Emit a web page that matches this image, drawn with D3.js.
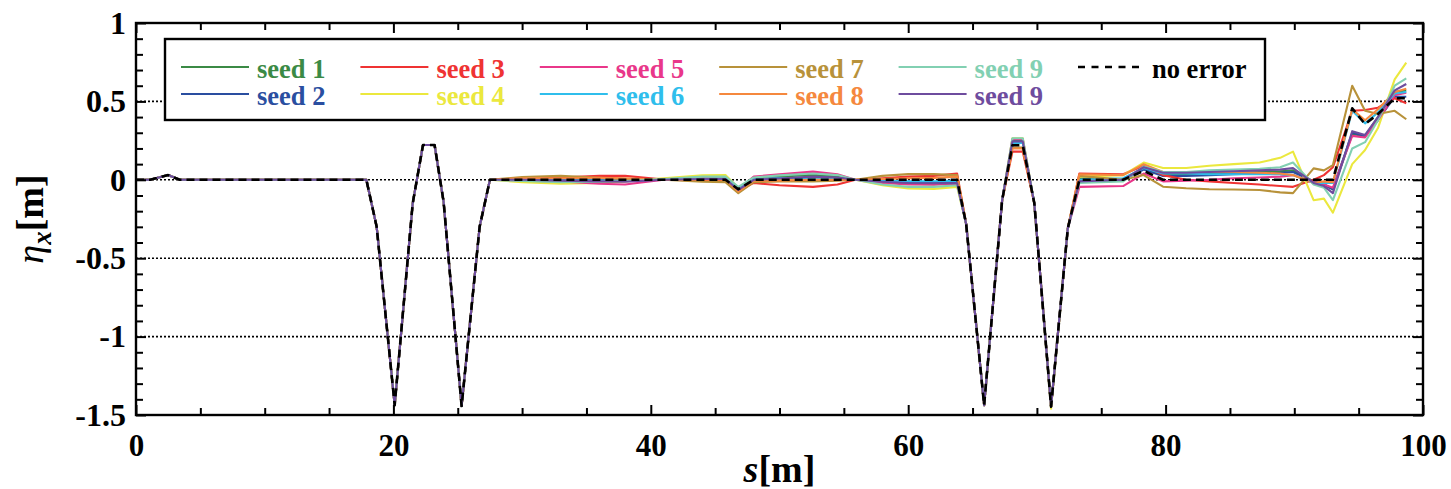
<!DOCTYPE html>
<html><head><meta charset="utf-8">
<script src="https://cdn.jsdelivr.net/npm/d3@7"></script>
<style>
html,body{margin:0;padding:0;background:#fff;}
svg{display:block;}
</style></head>
<body><svg id="c" width="1451" height="489"></svg>
<script>
// ---- data ----
const sCommon = [0, 1.1, 2.5, 3.4, 17.9, 18.7, 20.1, 21.5, 22.3, 23.2, 23.9, 25.3, 26.7];
const etaCommon = [0, 0, 0.03, 0, 0, -0.30, -1.437, -0.15, 0.222, 0.222, -0.14, -1.443, -0.30];
const sGrid = [27.5, 30, 33, 36, 38, 41, 44, 45.8, 46.8, 48.0, 50, 52.6, 54.5, 55.9, 58, 60, 62, 63.8,
  64.5, 65.9, 67.3, 68.1, 68.9, 69.8, 71.1, 72.4,
  73.3, 76.7, 78.3, 79.8, 81.6, 83.4, 85.3, 87.3, 88.9, 89.9, 91.5, 92.3, 93.0, 94.5, 95.5, 96.5, 97.8, 98.7];

const seed1 = [0, 0.005, 0.005, 0, -0.005, 0, 0.01, 0.012, -0.06, 0.01, 0.02, 0.032, 0.02, 0, -0.015, -0.025, -0.028, -0.02,
  -0.28, -1.437, -0.13, 0.25, 0.25, -0.15, -1.447, -0.31,
  0.01, 0.005, 0.07, 0.035, 0.035, 0.04, 0.045, 0.05, 0.055, 0.06, -0.01, -0.03, -0.06, 0.29, 0.28, 0.4, 0.56, 0.57];
const seed2 = [0, 0, 0.003, 0.005, 0.005, 0, 0.005, 0.005, -0.065, 0.005, 0.01, 0.015, 0.01, 0, -0.01, -0.015, -0.015, -0.01,
  -0.28, -1.437, -0.13, 0.24, 0.24, -0.15, -1.447, -0.31,
  0.0, 0.0, 0.065, 0.025, 0.025, 0.03, 0.035, 0.04, 0.045, 0.05, -0.01, -0.03, -0.06, 0.3, 0.28, 0.38, 0.53, 0.53];
const seed3 = [0, 0.005, 0.015, 0.025, 0.025, 0.002, -0.005, -0.005, -0.07, -0.02, -0.035, -0.045, -0.03, 0, 0.01, 0.02, 0.025, 0.04,
  -0.28, -1.437, -0.13, 0.18, 0.18, -0.15, -1.447, -0.31,
  0.04, 0.035, 0.09, 0.03, 0.0, -0.01, -0.02, -0.03, -0.04, -0.045, 0.0, 0.03, 0.08, 0.44, 0.445, 0.46, 0.52, 0.488];
const seed4 = [0, -0.015, -0.025, -0.02, -0.01, 0.01, 0.028, 0.03, -0.05, 0.01, 0.005, 0.0, 0.0, 0, -0.035, -0.055, -0.058, -0.045,
  -0.28, -1.437, -0.13, 0.265, 0.265, -0.15, -1.46, -0.31,
  0.02, 0.03, 0.11, 0.075, 0.075, 0.09, 0.1, 0.11, 0.14, 0.18, -0.13, -0.12, -0.21, 0.1, 0.19, 0.33, 0.64, 0.747];
const seed5 = [0, -0.005, -0.01, -0.025, -0.03, 0, 0.01, 0.01, -0.06, 0.02, 0.035, 0.052, 0.035, 0, -0.02, -0.03, -0.032, -0.025,
  -0.28, -1.437, -0.13, 0.26, 0.26, -0.15, -1.447, -0.31,
  -0.045, -0.04, 0.04, -0.01, -0.005, 0.0, 0.01, 0.015, 0.02, 0.03, -0.015, -0.03, -0.05, 0.28, 0.27, 0.38, 0.54, 0.555];
const seed6 = [0, 0, -0.005, -0.005, -0.005, 0, 0.005, 0.01, -0.06, 0.005, 0.01, 0.012, 0.01, 0, -0.005, -0.01, -0.01, -0.005,
  -0.28, -1.437, -0.13, 0.235, 0.235, -0.15, -1.447, -0.31,
  0.0, 0.01, 0.075, 0.04, 0.04, 0.035, 0.035, 0.035, 0.035, 0.03, -0.02, -0.02, -0.02, 0.44, 0.36, 0.43, 0.55, 0.56];
const seed7 = [0, 0.018, 0.025, 0.012, 0.005, 0, -0.012, -0.015, -0.085, -0.015, -0.01, -0.01, -0.005, 0, 0.025, 0.036, 0.036, 0.03,
  -0.28, -1.437, -0.13, 0.205, 0.205, -0.15, -1.447, -0.31,
  0.025, 0.0, 0.03, -0.044, -0.054, -0.06, -0.062, -0.065, -0.08, -0.085, 0.073, 0.06, 0.094, 0.6, 0.44, 0.42, 0.44, 0.386];
const seed8 = [0, 0.01, 0.01, 0.012, 0.01, 0, 0, 0, -0.075, -0.005, -0.005, 0.0, 0.0, 0, 0.005, 0.01, 0.012, 0.02,
  -0.28, -1.437, -0.13, 0.2, 0.2, -0.15, -1.447, -0.31,
  0.035, 0.03, 0.1, 0.05, 0.05, 0.05, 0.05, 0.045, 0.04, 0.03, -0.02, -0.01, -0.015, 0.45, 0.38, 0.45, 0.56, 0.58];
const seed9a = [0, -0.008, -0.015, -0.012, -0.008, 0.005, 0.02, 0.02, -0.045, 0.015, 0.028, 0.04, 0.03, 0, -0.03, -0.045, -0.045, -0.035,
  -0.28, -1.437, -0.13, 0.265, 0.265, -0.15, -1.447, -0.31,
  -0.02, -0.01, 0.085, 0.05, 0.05, 0.06, 0.065, 0.07, 0.08, 0.11, -0.03, -0.05, -0.13, 0.2, 0.24, 0.38, 0.6, 0.647];
const seed9b = [0, 0, -0.005, -0.01, -0.012, 0, 0.005, 0.005, -0.065, 0, 0.008, 0.02, 0.015, 0, -0.012, -0.02, -0.022, -0.02,
  -0.28, -1.437, -0.13, 0.245, 0.245, -0.15, -1.447, -0.31,
  -0.01, 0.0, 0.08, 0.045, 0.045, 0.05, 0.055, 0.06, 0.065, 0.075, -0.02, -0.04, -0.085, 0.31, 0.286, 0.4, 0.57, 0.611];
const noError = [0, 0, 0, 0, 0, 0, 0, 0, -0.06, 0, 0, 0, 0, 0, 0, 0, 0, 0,
  -0.28, -1.437, -0.13, 0.22, 0.22, -0.15, -1.447, -0.31,
  0, 0, 0.057, 0, 0, 0, 0, 0, 0, 0, 0, 0, 0, 0.456, 0.355, 0.42, 0.52, 0.52];

const seriesNames = ["seed 1","seed 2","seed 3","seed 4","seed 5","seed 6","seed 7","seed 8","seed 9","seed 9","no error"];
const seriesColors = ["#3b8a45","#2a4ea0","#ef3333","#ebe83e","#e9378a","#2fbeec","#b8923a","#f5883e","#82d0b2","#6e4c9e","#000000"];
const seriesValues = [seed1, seed2, seed3, seed4, seed5, seed6, seed7, seed8, seed9a, seed9b, noError];

const xTickLabels = ["0","20","40","60","80","100"];
const xTicks = [0,20,40,60,80,100];
const yTicks = [1,0.5,0,-0.5,-1,-1.5];
const yTickLabels = ["1","0.5","0","-0.5","-1","-1.5"];
const gridVals = [0.5,0,-0.5,-1];

// ---- chart ----
const FONT = "'Liberation Serif'";
const svg = d3.select("#c");
const x = d3.scaleLinear().domain([0,100]).range([136,1423]);
const y = d3.scaleLinear().domain([-1.5,1]).range([415,23]);
const L=136,R=1423,T=23,B=415;

svg.append("g").selectAll("line").data(gridVals).join("line")
  .attr("x1",L).attr("x2",R).attr("y1",d=>y(d)).attr("y2",d=>y(d))
  .attr("stroke","#000").attr("stroke-width",1.6).attr("stroke-dasharray","2,2");

const sAll = sCommon.concat(sGrid);
const line = d3.line().x(d=>x(d[0])).y(d=>y(d[1]));
const plot = svg.append("g");
seriesValues.forEach((vals,i)=>{
  const eta = etaCommon.concat(vals);
  const pts = sAll.map((s,j)=>[s, eta[j]]);
  plot.append("path").datum(pts).attr("d",line)
    .attr("fill","none").attr("stroke",seriesColors[i])
    .attr("stroke-width", i===10?2.6:2.1)
    .attr("stroke-dasharray", i===10?"8,5":null)
    .attr("stroke-linejoin","round");
});

const minorX = d3.range(0,101,5).filter(v=>v%20!==0);
const minorY = d3.range(-15,11,1).map(v=>v/10).filter(v=>Math.abs(v*2-Math.round(v*2))>1e-6);
function noDomain(g){g.select(".domain").remove();}
function styleText(sel,size){sel.style("font-family",FONT).style("font-weight","bold").attr("font-size",size).attr("fill","#000");}
const bottom = svg.append("g").attr("transform",`translate(0,${B})`)
  .call(d3.axisBottom(x).tickValues(xTicks).tickSize(-10).tickPadding(19).tickFormat((d,i)=>xTickLabels[i])).call(noDomain);
styleText(bottom.selectAll("text"),31);
svg.append("g").attr("transform",`translate(0,${B})`)
  .call(d3.axisBottom(x).tickValues(minorX).tickSize(-7).tickFormat("")).call(noDomain);
svg.append("g").attr("transform",`translate(0,${T})`)
  .call(d3.axisTop(x).tickValues(xTicks).tickSize(-10).tickFormat("")).call(noDomain);
svg.append("g").attr("transform",`translate(0,${T})`)
  .call(d3.axisTop(x).tickValues(minorX).tickSize(-7).tickFormat("")).call(noDomain);
const left = svg.append("g").attr("transform",`translate(${L},0)`)
  .call(d3.axisLeft(y).tickValues(yTicks).tickSize(-10).tickPadding(10).tickFormat((d,i)=>yTickLabels[i])).call(noDomain);
styleText(left.selectAll("text"),32);
svg.append("g").attr("transform",`translate(${L},0)`)
  .call(d3.axisLeft(y).tickValues(minorY).tickSize(-7).tickFormat("")).call(noDomain);
svg.append("g").attr("transform",`translate(${R},0)`)
  .call(d3.axisRight(y).tickValues(yTicks).tickSize(-10).tickFormat("")).call(noDomain);
svg.append("g").attr("transform",`translate(${R},0)`)
  .call(d3.axisRight(y).tickValues(minorY).tickSize(-7).tickFormat("")).call(noDomain);
svg.selectAll(".tick line").attr("stroke","#000").attr("stroke-width",2);

svg.append("rect").attr("x",L).attr("y",T).attr("width",R-L).attr("height",B-T)
  .attr("fill","none").attr("stroke","#000").attr("stroke-width",2.4);

const xt = svg.append("text").attr("x",(L+R)/2).attr("y",482).attr("text-anchor","middle");
styleText(xt,38);
xt.append("tspan").style("font-style","italic").text("s");
xt.append("tspan").text("[m]");
const yt = svg.append("text").attr("transform",`translate(43,${(T+B)/2}) rotate(-90)`).attr("text-anchor","middle");
styleText(yt,38);
yt.append("tspan").style("font-style","italic").style("font-weight","normal").text("η");
yt.append("tspan").style("font-style","italic").attr("font-size",27).attr("dy",8).text("x");
yt.append("tspan").attr("dy",-8).text("[m]");

const lg = svg.append("g");
lg.append("rect").attr("x",165).attr("y",39).attr("width",1100).attr("height",81)
  .attr("fill","#fff").attr("stroke","#000").attr("stroke-width",2.4);
seriesNames.forEach((name,i)=>{
  const col = Math.floor(i/2), row = i%2;
  const lx = 181 + col*179.4, ly = 67 + row*27;
  lg.append("line").attr("x1",lx).attr("x2",lx+(i===10?64:68)).attr("y1",ly).attr("y2",ly)
    .attr("stroke",seriesColors[i]).attr("stroke-width",i===10?2.4:2)
    .attr("stroke-dasharray",i===10?"7,6.5":null);
  const t = lg.append("text").attr("x",lx+(i===10?74:76)).attr("y",ly+11).text(name);
  styleText(t,26.5);
  t.attr("fill",seriesColors[i]);
});
</script></body></html>
